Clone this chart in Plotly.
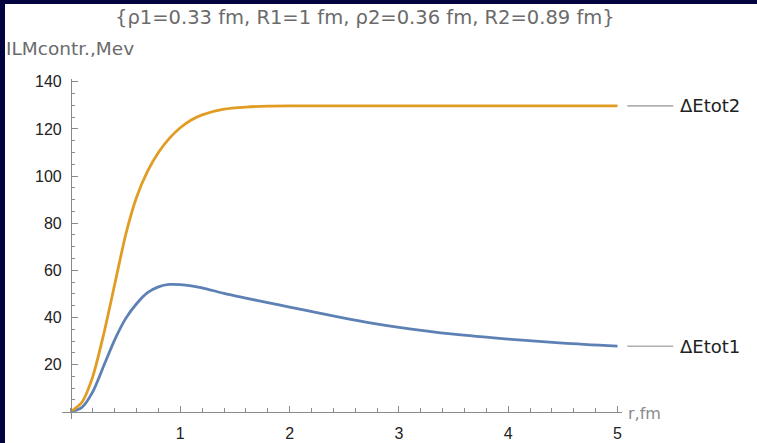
import plotly.graph_objects as go

# ---- data ----
r = [0, 0.1, 0.2, 0.3, 0.4, 0.5, 0.6, 0.7, 0.8, 0.9, 1.0, 1.1, 1.2, 1.4, 1.6, 1.8,
     2.0, 2.25, 2.5, 2.75, 3.0, 3.5, 4.0, 4.5, 5.0]
e_tot1 = [0, 1.8, 8.5, 19.5, 30.5, 39.5, 45.8, 50.5, 53.0, 54.0, 53.9, 53.4, 52.6, 50.2,
          48.2, 46.3, 44.4, 42.0, 39.7, 37.6, 35.8, 32.9, 30.8, 29.1, 27.8]
e_tot2 = [0, 4, 15, 33, 54, 75, 91, 102, 110, 116, 120.5, 123.8, 126, 128.4, 129.3,
          129.7, 129.8, 129.8, 129.8, 129.8, 129.8, 129.8, 129.8, 129.8, 129.8]
series_names = ["ΔEtot1", "ΔEtot2"]
x_ticks = [1, 2, 3, 4, 5]
y_ticks = [20, 40, 60, 80, 100, 120, 140]
title_text = "{ρ1=0.33 fm, R1=1 fm, ρ2=0.36 fm, R2=0.89 fm}"
y_label = "ILMcontr.,Mev"
x_label = "r,fm"

# ---- geometry ----
W, H = 757, 443
ML, MR, MT, MB = 62, 135, 79, 24
PW = W - ML - MR
PH = H - MT - MB
XR = [-0.082, 5.041]
YR = [-3.1, 141.2]

def xp(v):
    return (v - XR[0]) / (XR[1] - XR[0])

def yp(v):
    return (v - YR[0]) / (YR[1] - YR[0])

def px_x(p):
    return (p - ML) / PW

def px_y(p):
    return (MT + PH - p) / PH

FONT = "Liberation Sans, Arial, sans-serif"
WIDE = "DejaVu Sans, sans-serif"
AX = "#8a8a8a"
BLUE = "#5E81B5"
ORANGE = "#E19C24"
NAVY = "#03033f"

fig = go.Figure()
fig.add_trace(go.Scatter(x=r, y=e_tot1, mode="lines", name=series_names[0],
                         line=dict(color=BLUE, width=2.8, shape="spline", smoothing=0.8)))
fig.add_trace(go.Scatter(x=r, y=e_tot2, mode="lines", name=series_names[1],
                         line=dict(color=ORANGE, width=2.8, shape="spline", smoothing=0.6)))

shapes = [
    # dark blue slide edges (left and top)
    dict(type="rect", xref="paper", yref="paper", layer="below",
         x0=px_x(-5), x1=px_x(5), y0=px_y(H + 5), y1=px_y(-5),
         fillcolor=NAVY, line=dict(width=0)),
    dict(type="rect", xref="paper", yref="paper", layer="below",
         x0=px_x(-5), x1=px_x(W + 5), y0=px_y(4), y1=px_y(-5),
         fillcolor=NAVY, line=dict(width=0)),
]
annotations = [
    dict(text=title_text, xref="paper", yref="paper", x=px_x(365),
         y=px_y(18), xanchor="center", yanchor="middle", showarrow=False,
         font=dict(family=WIDE, size=19.5, color="#6b6b6b")),
    dict(text=y_label, xref="paper", yref="paper", x=px_x(4),
         y=px_y(48), xanchor="left", yanchor="middle", showarrow=False,
         font=dict(family=WIDE, size=18.5, color="#6b6b6b")),
    dict(text=x_label, xref="x", yref="y", x=XR[1], xshift=4, y=0, yshift=-2,
         xanchor="left", yanchor="middle", showarrow=False,
         font=dict(family=WIDE, size=16, color="#8a8a8a")),
]
for name, ys in zip(series_names, [e_tot1, e_tot2]):
    xe = r[-1]
    shapes.append(dict(type="line", xref="paper", yref="paper",
                       x0=xp(xe + 0.09), x1=xp(xe + 0.51), y0=yp(ys[-1]), y1=yp(ys[-1]),
                       line=dict(color="#b0b0b0", width=1.6)))
    annotations.append(dict(text=name, xref="paper", yref="paper", x=xp(xe + 0.55),
                            y=yp(ys[-1]), xanchor="left", yanchor="middle",
                            showarrow=False,
                            font=dict(family=WIDE, size=18, color="#222222")))

fig.update_layout(
    width=W, height=H,
    margin=dict(l=ML, r=MR, t=MT, b=MB, pad=0),
    paper_bgcolor="white",
    plot_bgcolor="white",
    showlegend=False,
    shapes=shapes,
    annotations=annotations,
    xaxis=dict(range=XR, anchor="free", position=yp(0), showline=True, linecolor=AX,
               linewidth=1, ticks="inside", ticklen=6, tickcolor=AX, tickwidth=1,
               tickvals=x_ticks, showgrid=False, zeroline=False, automargin=False,
               tickfont=dict(family=FONT, size=16, color="#222222"),
               ticklabelstandoff=7,
               minor=dict(tick0=0, dtick=0.2, ticks="inside", ticklen=3.5,
                          tickcolor=AX, tickwidth=1, showgrid=False)),
    yaxis=dict(range=YR, anchor="free", position=xp(0), showline=True, linecolor=AX,
               linewidth=1, ticks="inside", ticklen=6, tickcolor=AX, tickwidth=1,
               tickvals=y_ticks, showgrid=False, zeroline=False, automargin=False,
               tickfont=dict(family=FONT, size=16, color="#222222"),
               ticklabelstandoff=6,
               minor=dict(tick0=0, dtick=5, ticks="inside", ticklen=3.5,
                          tickcolor=AX, tickwidth=1, showgrid=False)),
)

fig.write_html("out.html",
               config={"displayModeBar": False},
               post_script="document.body.style.margin='0px';"
                           "document.body.style.overflow='hidden';")
